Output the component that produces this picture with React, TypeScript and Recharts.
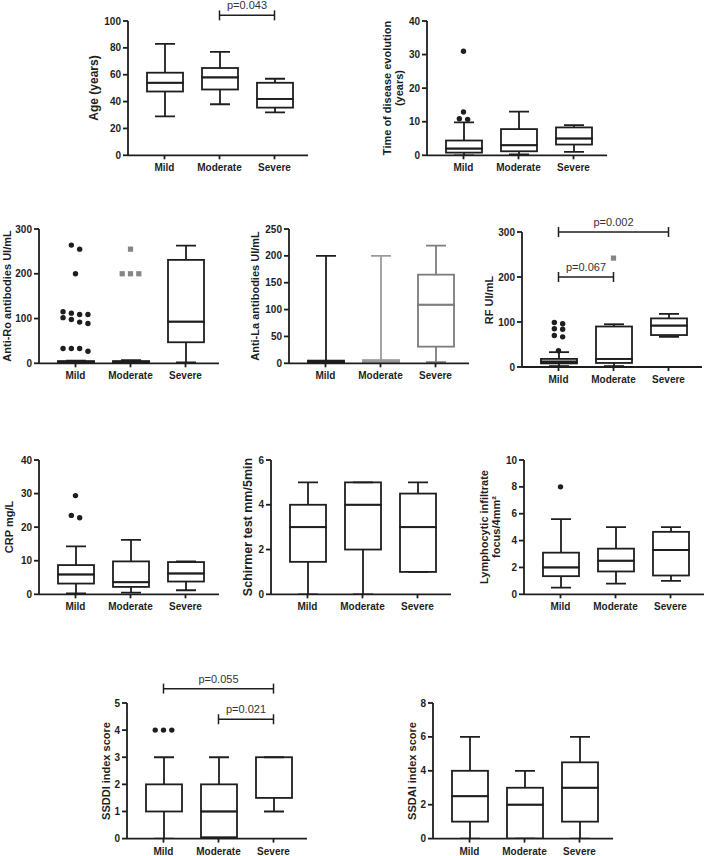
import React from 'react'
import { ComposedChart, Bar, Scatter, XAxis, YAxis, ReferenceLine } from 'recharts'

const groups = ['Mild', 'Moderate', 'Severe']

// every box is [min, Q1, median, Q3, max] for Mild, Moderate, Severe
const ageBox = [[29, 47.5, 54, 61.5, 83], [38, 49, 58, 65, 77], [32, 35.5, 42, 54, 57]]
const ageOut = [[], [], []]
const ageTicks = [0, 20, 40, 60, 80, 100]
const ageTests = [{ a: 1, b: 2, y: 104.2, p: 'p=0.043' }]

const timeBox = [[0, 0.8, 2, 4.4, 9.8], [0.3, 1.2, 3, 7.8, 13], [1, 3.2, 5, 8.3, 9]]
const timeOut = [[31, 12.9, 10.9, 10.7], [], []]
const timeTicks = [0, 10, 20, 30, 40]

const roBox = [[0.5, 2, 3, 5, 6], [1, 2, 3, 5, 7], [2, 47, 93, 231, 263]]
const roOut = [
  [264, 255, 200, 115, 112, 109, 109, 102, 98, 92, 89, 33, 33, 33, 27],
  [255, 200, 200, 200],
  [],
]
const roTicks = [0, 100, 200, 300]

const laBox = [[0.5, 1.5, 3, 5, 200], [0.5, 1.5, 3, 6, 200], [2, 31, 109, 165, 219]]
const laOut = [[], [], []]
const laTicks = [0, 50, 100, 150, 200, 250]

const rfBox = [[2, 8, 12, 18, 33], [2, 9, 18, 90, 95], [67, 71, 92, 108, 118]]
const rfOut = [[99, 96, 85, 84, 70, 67, 36], [242], []]
const rfTicks = [0, 100, 200, 300]
const rfTests = [
  { a: 0, b: 2, y: 300, p: 'p=0.002' },
  { a: 0, b: 1, y: 200, p: 'p=0.067' },
]

const crpBox = [[0.3, 3.2, 5.9, 8.7, 14.3], [0.5, 2.2, 3.6, 9.8, 16.2], [1.2, 3.8, 6.2, 9.6, 9.8]]
const crpOut = [[29.4, 23.5, 22.8], [], []]
const crpTicks = [0, 10, 20, 30, 40]

const schBox = [[0, 1.45, 3, 4, 5], [0, 2, 4, 5, 5], [1, 1, 3, 4.5, 5]]
const schOut = [[], [], []]
const schTicks = [0, 2, 4, 6]

const lymBox = [[0.5, 1.35, 2, 3.1, 5.6], [0.8, 1.7, 2.5, 3.4, 5], [1, 1.4, 3.3, 4.65, 5]]
const lymOut = [[8], [], []]
const lymTicks = [0, 2, 4, 6, 8, 10]

const ssddiBox = [[0, 1, 1, 2, 3], [0, 0.05, 1, 2, 3], [1, 1.5, 3, 3, 3]]
const ssddiOut = [[4, 4, 4], [], []]
const ssddiTicks = [0, 1, 2, 3, 4, 5]
const ssddiTests = [
  { a: 0, b: 2, y: 5.53, p: 'p=0.055' },
  { a: 1, b: 2, y: 4.4, p: 'p=0.021' },
]

const ssdaiBox = [[0, 1, 2.5, 4, 6], [0, 0, 2, 3, 4], [0, 1, 3, 4.5, 6]]
const ssdaiOut = [[], [], []]
const ssdaiTicks = [0, 2, 4, 6, 8]

const INK = '#1e1e1e'
const GREY = '#858585'
const FONT = '"Liberation Sans", Arial, sans-serif'
const PLOT_W = 180
const AXIS_W = 50
const TOP_PAD = 40
const XAXIS_H = 30
const FIRST = 36.5
const STEP = 55
const xDomain = [-FIRST / STEP, (PLOT_W - FIRST) / STEP]
const LW = 1.8

const black = [INK, INK, INK]

const panels = [
  { box: ageBox, out: ageOut, ticks: ageTicks, tests: ageTests, label: ['Age (years)'], left: 127.7, top: 20.7, bottom: 155, dist: 33, size: 12 },
  { box: timeBox, out: timeOut, ticks: timeTicks, label: ['Time of disease evolution', '(years)'], left: 427.3, top: 20.7, bottom: 155, dist: 34, size: 11 },
  { box: roBox, out: roOut, ticks: roTicks, label: ['Anti-Ro antibodies UI/mL'], left: 39.3, top: 229, bottom: 363.3, dist: 32, size: 11, markers: ['circle', 'square', 'circle'] },
  { box: laBox, out: laOut, ticks: laTicks, label: ['Anti-La antibodies UI/mL'], left: 289.3, top: 229, bottom: 363.3, dist: 34, size: 11, colors: [INK, '#9a9a9a', '#7d7d7d'] },
  { box: rfBox, out: rfOut, ticks: rfTicks, tests: rfTests, label: ['RF UI/mL'], left: 522.3, top: 232.3, bottom: 367.3, dist: 33, size: 11, markers: ['circle', 'square', 'circle'] },
  { box: crpBox, out: crpOut, ticks: crpTicks, label: ['CRP mg/L'], left: 39.3, top: 460, bottom: 594.3, dist: 30, size: 11 },
  { box: schBox, out: schOut, ticks: schTicks, label: ['Schirmer test mm/5min'], left: 270.7, top: 460, bottom: 594.3, dist: 22, size: 12.5 },
  { box: lymBox, out: lymOut, ticks: lymTicks, label: ['Lymphocytic infiltrate', 'focus/4mm²'], left: 524.3, top: 460, bottom: 594.3, dist: 34, size: 11 },
  { box: ssddiBox, out: ssddiOut, ticks: ssddiTicks, tests: ssddiTests, label: ['SSDDI index score'], left: 127.3, top: 702.7, bottom: 838.3, dist: 21.7, size: 11 },
  { box: ssdaiBox, out: ssdaiOut, ticks: ssdaiTicks, label: ['SSDAI index score'], left: 433.3, top: 702.7, bottom: 838.3, dist: 21.7, size: 11 },
]

const toRows = (boxes: number[][]) =>
  boxes.map(([mn, q1, md, q3, mx], i) => ({
    x: i, base: mn, lw: q1 - mn, lb: md - q1, hb: q3 - md, hw: mx - q3,
  }))

// outliers close in value sit side by side, like prism does it
const spread = (outs: number[][], yMax: number) => {
  const pts: any[] = []
  outs.forEach((vals, g) => {
    const sorted = [...vals].sort((a, b) => b - a)
    let row: number[] = []
    const flush = () => {
      row.forEach((v, k) => pts.push({ x: g, y: v, dx: (k - (row.length - 1) / 2) * 8.3 }))
      row = []
    }
    sorted.forEach((v) => {
      if (row.length && (row[0] - v > yMax * 0.045 || row.length >= 4)) flush()
      row.push(v)
    })
    flush()
  })
  return pts
}

const grp = (p: any) => (p.payload && p.payload.x != null ? p.payload.x : p.index)

const whisker = (top: boolean, colors: string[]) => (p: any) => {
  const c = colors[grp(p)]
  const cx = p.x + p.width / 2
  const y0 = Math.min(p.y, p.y + p.height)
  const y1 = Math.max(p.y, p.y + p.height)
  const capY = top ? y0 : y1
  return (
    <g>
      <line x1={cx} x2={cx} y1={y0} y2={y1} stroke={c} strokeWidth={LW} />
      <line x1={cx - 10} x2={cx + 10} y1={capY} y2={capY} stroke={c} strokeWidth={LW} />
    </g>
  )
}

const boxPart = (colors: string[]) => (p: any) => (
  <rect
    x={p.x}
    y={Math.min(p.y, p.y + p.height)}
    width={p.width}
    height={Math.abs(p.height)}
    fill="none"
    stroke={colors[grp(p)]}
    strokeWidth={LW}
  />
)

const dot = (markers: string[]) => (p: any) => {
  const cx = p.cx + (p.payload.dx || 0)
  if (markers[p.payload.x] === 'square') {
    return <rect x={cx - 2.6} y={p.cy - 2.6} width={5.2} height={5.2} fill={GREY} />
  }
  return <circle cx={cx} cy={p.cy} r={2.7} fill={INK} />
}

const bracket = (text: string) => (p: any) => (
  <g>
    <line x1={p.x1} x2={p.x2} y1={p.y1} y2={p.y1} stroke={INK} strokeWidth={1.5} />
    <line x1={p.x1} x2={p.x1} y1={p.y1 - 5} y2={p.y1 + 5} stroke={INK} strokeWidth={1.5} />
    <line x1={p.x2} x2={p.x2} y1={p.y1 - 5} y2={p.y1 + 5} stroke={INK} strokeWidth={1.5} />
    <text x={(p.x1 + p.x2) / 2} y={p.y1 - 6} textAnchor="middle" fontSize={11} fill="#333" fontFamily={FONT}>
      {text}
    </text>
  </g>
)

const axisStyle = { stroke: INK, strokeWidth: LW }
const tickStyle = { fill: INK, fontSize: 10, fontWeight: 700, fontFamily: FONT }

const BoxPanel = ({ cfg }: any) => {
  const colors = cfg.colors || black
  const markers = cfg.markers || ['circle', 'circle', 'circle']
  const yMax = cfg.ticks[cfg.ticks.length - 1]
  const plotH = cfg.bottom - cfg.top
  const rows = toRows(cfg.box)
  const pts = spread(cfg.out, yMax)
  return (
    <>
      <div style={{ position: 'absolute', left: cfg.left - AXIS_W, top: cfg.top - TOP_PAD }}>
        <ComposedChart
          width={AXIS_W + PLOT_W + 8}
          height={TOP_PAD + plotH + XAXIS_H + 2}
          data={rows}
          margin={{ top: TOP_PAD, right: 8, bottom: 2, left: 0 }}
        >
          <XAxis
            type="number"
            dataKey="x"
            domain={xDomain}
            allowDataOverflow
            ticks={[0, 1, 2]}
            interval={0}
            tickFormatter={(v: number) => groups[Math.round(v)]}
            height={XAXIS_H}
            tickSize={4}
            tickMargin={5}
            axisLine={axisStyle}
            tickLine={axisStyle}
            tick={tickStyle}
          />
          <YAxis
            type="number"
            domain={[0, yMax]}
            allowDataOverflow
            ticks={cfg.ticks}
            interval={0}
            width={AXIS_W}
            tickSize={5}
            tickMargin={2}
            axisLine={axisStyle}
            tickLine={axisStyle}
            tick={tickStyle}
          />
          <Bar dataKey="base" stackId="b" barSize={36} isAnimationActive={false} shape={() => <g />} />
          <Bar dataKey="lw" stackId="b" barSize={36} isAnimationActive={false} shape={whisker(false, colors)} />
          <Bar dataKey="lb" stackId="b" barSize={36} isAnimationActive={false} shape={boxPart(colors)} />
          <Bar dataKey="hb" stackId="b" barSize={36} isAnimationActive={false} shape={boxPart(colors)} />
          <Bar dataKey="hw" stackId="b" barSize={36} isAnimationActive={false} shape={whisker(true, colors)} />
          {pts.length > 0 && (
            <Scatter data={pts} dataKey="y" isAnimationActive={false} shape={dot(markers)} />
          )}
          {(cfg.tests || []).map((t: any, i: number) => (
            <ReferenceLine
              key={i}
              segment={[{ x: t.a, y: t.y }, { x: t.b, y: t.y }]}
              ifOverflow="visible"
              shape={bracket(t.p)}
            />
          ))}
        </ComposedChart>
      </div>
      <div
        style={{
          position: 'absolute',
          left: cfg.left - cfg.dist,
          top: (cfg.top + cfg.bottom) / 2,
          transform: 'translate(-50%, -50%) rotate(-90deg)',
          whiteSpace: 'nowrap',
          textAlign: 'center',
          fontFamily: FONT,
          fontWeight: 700,
          fontSize: cfg.size,
          lineHeight: 1.1,
          color: INK,
        }}
      >
        {cfg.label.map((l: string, i: number) => (
          <div key={i}>{l}</div>
        ))}
      </div>
    </>
  )
}

export default function App() {
  return (
    <div style={{ position: 'absolute', left: 0, top: 0, width: 709, height: 856, background: '#fff', overflow: 'hidden' }}>
      {panels.map((cfg, i) => (
        <BoxPanel key={i} cfg={cfg} />
      ))}
    </div>
  )
}
